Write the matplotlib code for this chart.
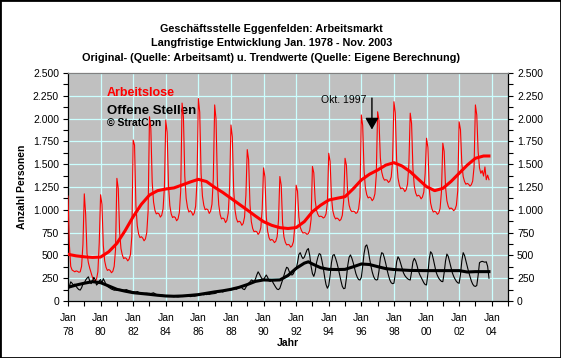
import numpy as np
import matplotlib
matplotlib.use("Agg")
import matplotlib.pyplot as plt
from matplotlib.patches import Rectangle
from matplotlib.ticker import FuncFormatter, MultipleLocator

plt.rcParams['font.family'] = ['Liberation Sans', 'DejaVu Sans']

# Arbeitslose, monatlich Jan 1978 - Nov 2003 (eine Zeile je Jahr)
arbeitslose = [
    1150, 620, 380, 340, 330, 320, 330, 325, 315, 320, 380, 620,          # 1978
    1175, 950, 520, 420, 360, 310, 260, 230, 215, 240, 320, 640,          # 1979
    1165, 1060, 610, 440, 370, 335, 345, 335, 310, 325, 380, 565,         # 1980
    1345, 1235, 760, 575, 505, 465, 475, 465, 440, 460, 510, 710,         # 1981
    1765, 1710, 1050, 825, 735, 695, 705, 690, 660, 680, 750, 990,        # 1982
    2020, 1890, 1305, 1085, 995, 955, 965, 955, 920, 940, 1010, 1250,     # 1983
    1985, 1850, 1265, 1045, 955, 915, 925, 915, 880, 900, 970, 1210,      # 1984
    2170, 2020, 1370, 1125, 1025, 975, 990, 975, 940, 965, 1040, 1310,    # 1985
    2220, 2070, 1400, 1150, 1050, 1000, 1010, 1000, 960, 985, 1060, 1340, # 1986
    2150, 1995, 1310, 1055, 950, 900, 910, 900, 860, 885, 965, 1245,      # 1987
    1930, 1800, 1215, 995, 905, 865, 875, 865, 830, 850, 920, 1160,       # 1988
    1660, 1550, 1055, 870, 795, 760, 765, 760, 730, 750, 805, 1010,       # 1989
    1460, 1360, 925, 765, 695, 665, 675, 665, 640, 655, 705, 885,         # 1990
    1365, 1270, 860, 705, 645, 615, 620, 615, 590, 605, 650, 820,         # 1991
    1270, 1205, 920, 810, 770, 745, 750, 745, 730, 740, 775, 895,         # 1992
    1475, 1405, 1105, 995, 950, 925, 930, 925, 910, 920, 955, 1080,       # 1993
    1620, 1530, 1140, 990, 930, 900, 910, 900, 880, 895, 940, 1100,       # 1994
    1565, 1490, 1170, 1050, 1000, 980, 985, 980, 960, 970, 1010, 1140,    # 1995
    2040, 1925, 1430, 1240, 1165, 1130, 1140, 1130, 1100, 1120, 1175, 1380,  # 1996
    2075, 1980, 1570, 1415, 1355, 1325, 1330, 1325, 1300, 1315, 1360, 1530,  # 1997
    2185, 2065, 1545, 1350, 1270, 1230, 1240, 1230, 1200, 1220, 1280, 1495,  # 1998
    2060, 1945, 1450, 1260, 1185, 1150, 1160, 1150, 1120, 1140, 1195, 1400,  # 1999
    1785, 1685, 1240, 1075, 1010, 975, 985, 975, 950, 965, 1015, 1200,    # 2000
    1730, 1640, 1250, 1100, 1040, 1010, 1020, 1010, 990, 1005, 1050, 1210,   # 2001
    1965, 1880, 1505, 1365, 1310, 1280, 1290, 1280, 1260, 1275, 1315, 1470,  # 2002
    2150, 2040, 1640, 1460, 1400, 1430, 1370, 1470, 1330, 1380, 1330,        # 2003
]

# Offene Stellen, monatlich Jan 1978 - Nov 2003
offene_stellen = [
    120, 160, 210, 195, 175, 185, 160, 140, 125, 120, 145, 185,   # 1978
    195, 230, 250, 265, 220, 190, 215, 260, 235, 175, 190, 220,   # 1979
    235, 200, 245, 215, 180, 160, 150, 140, 130, 125, 118, 120,   # 1980
    118, 122, 128, 125, 120, 118, 122, 125, 118, 112, 108, 105,   # 1981
    102, 100, 98, 104, 96, 90, 88, 86, 84, 85, 86, 84,            # 1982
    84, 82, 86, 90, 80, 72, 68, 66, 64, 66, 62, 60,               # 1983
    58, 56, 55, 57, 52, 50, 48, 50, 47, 45, 48, 50,               # 1984
    50, 52, 55, 53, 50, 52, 48, 50, 54, 52, 55, 58,               # 1985
    62, 66, 70, 72, 68, 72, 70, 74, 72, 76, 78, 80,               # 1986
    82, 86, 95, 98, 100, 104, 98, 110, 112, 116, 118, 120,        # 1987
    122, 126, 140, 135, 128, 140, 150, 155, 145, 130, 125, 150,   # 1988
    175, 195, 210, 230, 225, 215, 240, 285, 320, 295, 265, 240,   # 1989
    235, 260, 285, 260, 220, 215, 235, 200, 175, 150, 130, 125,   # 1990
    140, 185, 230, 280, 330, 370, 360, 320, 290, 285, 300, 340,   # 1991
    350, 420, 510, 530, 490, 465, 480, 520, 560, 575, 500, 380,   # 1992
    300, 270, 320, 420, 480, 520, 510, 440, 360, 260, 180, 140,   # 1993
    170, 280, 420, 500, 510, 470, 420, 360, 290, 220, 160, 135,   # 1994
    140, 250, 390, 480, 505, 470, 420, 360, 300, 260, 235, 230,   # 1995
    260, 380, 520, 600, 615, 560, 470, 390, 320, 270, 240, 230,   # 1996
    235, 330, 470, 530, 520, 470, 410, 340, 280, 230, 200, 190,   # 1997
    195, 300, 430, 485, 460, 410, 360, 310, 280, 260, 245, 235,   # 1998
    230, 320, 430, 468, 440, 390, 330, 290, 260, 230, 200, 180,   # 1999
    176, 300, 460, 540, 520, 460, 390, 320, 280, 250, 230, 215,   # 2000
    212, 310, 440, 515, 490, 430, 370, 310, 270, 240, 215, 200,   # 2001
    194, 290, 440, 530, 500, 440, 380, 320, 270, 220, 185, 165,   # 2002
    160, 170, 280, 420, 430, 435, 430, 425, 430, 380, 250,        # 2003
]

# Trendwerte (Zeitpunkt in Jahren, Wert)
trend_zeit_al = [1978.0, 1978.5, 1979.0, 1979.5, 1980.0, 1980.5, 1981.0, 1981.5,
                 1982.0, 1982.5, 1983.0, 1983.5, 1984.0, 1984.5, 1985.0, 1985.5,
                 1986.0, 1986.5, 1987.0, 1987.5, 1988.0, 1988.5, 1989.0, 1989.5,
                 1990.0, 1990.5, 1991.0, 1991.5, 1992.0, 1992.5, 1993.0, 1993.5,
                 1994.0, 1994.5, 1995.0, 1995.5, 1996.0, 1996.5, 1997.0, 1997.5,
                 1998.0, 1998.5, 1999.0, 1999.5, 2000.0, 2000.5, 2001.0, 2001.5,
                 2002.0, 2002.5, 2003.0, 2003.5, 2003.83]
trend_al = [512, 495, 485, 478, 482, 540, 632, 770,
            925, 1060, 1162, 1210, 1228, 1240, 1272, 1305,
            1334, 1310, 1246, 1190, 1126, 1062, 998, 932,
            870, 830, 804, 795, 805, 870, 979, 1050,
            1107, 1126, 1144, 1230, 1327, 1390, 1436, 1490,
            1517, 1480, 1418, 1335, 1254, 1210, 1235, 1310,
            1400, 1490, 1565, 1590, 1590]

trend_zeit_os = [1978.0, 1978.5, 1979.0, 1979.5, 1980.0, 1980.5, 1981.0, 1981.5,
                 1982.0, 1982.5, 1983.0, 1983.5, 1984.0, 1984.5, 1985.0, 1985.5,
                 1986.0, 1986.5, 1987.0, 1987.5, 1988.0, 1988.5, 1989.0, 1989.5,
                 1990.0, 1990.5, 1991.0, 1991.5, 1992.0, 1992.5, 1992.75, 1993.0,
                 1993.5, 1994.0, 1994.5, 1995.0, 1995.5, 1996.0, 1996.5, 1997.0,
                 1997.5, 1998.0, 1998.5, 1999.0, 2000.0, 2001.0, 2002.0, 2002.5,
                 2003.0, 2003.83]
trend_os = [150, 175, 195, 212, 201, 165, 128, 108,
            91, 82, 73, 63, 55, 52, 55, 62,
            70, 85, 100, 112, 128, 150, 180, 215,
            231, 228, 231, 280, 358, 415, 430, 406,
            365, 347, 345, 347, 375, 406, 400, 377,
            355, 345, 340, 335, 333, 333, 333, 318,
            322, 322]

start_jahr = 1978
titel = ["Geschäftsstelle Eggenfelden: Arbeitsmarkt",
         "Langfristige Entwicklung Jan. 1978 - Nov. 2003",
         "Original- (Quelle: Arbeitsamt) u. Trendwerte (Quelle: Eigene Berechnung)"]

monate_al = start_jahr + np.arange(len(arbeitslose)) / 12.0
monate_os = start_jahr + np.arange(len(offene_stellen)) / 12.0

W, H = 561, 358
fig = plt.figure(figsize=(W / 100, H / 100), dpi=100)
fig.patch.set_facecolor('white')
fig.patches.append(Rectangle((0, 0), 1, 1, transform=fig.transFigure,
                             fill=False, ec='black', lw=2.0))

ax = fig.add_axes([68 / W, 1 - 301 / H, 440 / W, 228 / H])
ax.set_facecolor('#c0c0c0')

ax.plot(monate_al, arbeitslose, color='#ff0000', lw=0.8, zorder=3)
ax.plot(trend_zeit_al, trend_al, color='#ff0000', lw=2.2, zorder=4)
ax.plot(monate_os, offene_stellen, color='black', lw=0.8, zorder=3)
ax.plot(trend_zeit_os, trend_os, color='black', lw=2.2, zorder=4)

ax.set_xlim(1978, 2005)
ax.set_ylim(0, 2500)

# Achsen
ax.set_xticks(range(1978, 2005, 2))
ax.set_xticks(range(1979, 2006, 2), minor=True)
ax.set_xticklabels(["Jan\n%02d" % (j % 100) for j in range(1978, 2005, 2)])
ax.yaxis.set_major_locator(MultipleLocator(250))
ax.yaxis.set_minor_locator(MultipleLocator(125))
ax.yaxis.set_major_formatter(FuncFormatter(lambda v, p: f"{int(v):,}".replace(",", ".")))
ax.tick_params(axis='both', which='both', direction='out', length=3.5,
               width=0.8, labelsize=7.5, colors='black')
ax.tick_params(axis='x', pad=5)
ax.tick_params(axis='y', which='both', pad=3, right=True, labelright=True)
for lbl in ax.get_xticklabels():
    lbl.set_linespacing(1.5)

ax.grid(True, which='major', color='#ccffff', lw=0.9, zorder=1)
ax.set_axisbelow(True)
for s in ['left', 'right', 'bottom']:
    ax.spines[s].set_color('black')
    ax.spines[s].set_linewidth(0.9)
ax.spines['top'].set_color('#808080')
ax.spines['top'].set_linewidth(0.9)

ax.set_ylabel("Anzahl Personen", fontsize=7.5, fontweight='bold', labelpad=4)
ax.set_xlabel("Jahr", fontsize=7.5, fontweight='bold', labelpad=1)

# Titel
for i, t in enumerate(titel):
    fig.text(271.5 / W, 1 - (29 + 14.5 * i) / H, t,
             ha='center', va='center', fontsize=7.8, fontweight='bold')

# Beschriftung im Diagramm
for txt, y, fs, col in [("Arbeitslose", 93, 9, '#ff0000'),
                        ("Offene Stellen", 110.5, 9.5, 'black'),
                        ("\u00a9 StratCon", 122.5, 7.5, 'black')]:
    ax.text(107 / W, 1 - y / H, txt, transform=fig.transFigure, fontsize=fs,
            fontweight='bold', color=col, va='center', ha='left', zorder=2)

# Pfeil Okt. 1997
ax.annotate("", xy=(1996.65, 1880), xytext=(1996.65, 2225),
            arrowprops=dict(arrowstyle='-|>,head_length=0.7,head_width=0.4',
                            color='black', lw=1.0, shrinkA=0, shrinkB=0), zorder=5)
ax.text(1996.3, 2205, "Okt. 1997", fontsize=7.5, ha='right', va='center', zorder=5)

fig.savefig("out.png", dpi=100, facecolor='white')
